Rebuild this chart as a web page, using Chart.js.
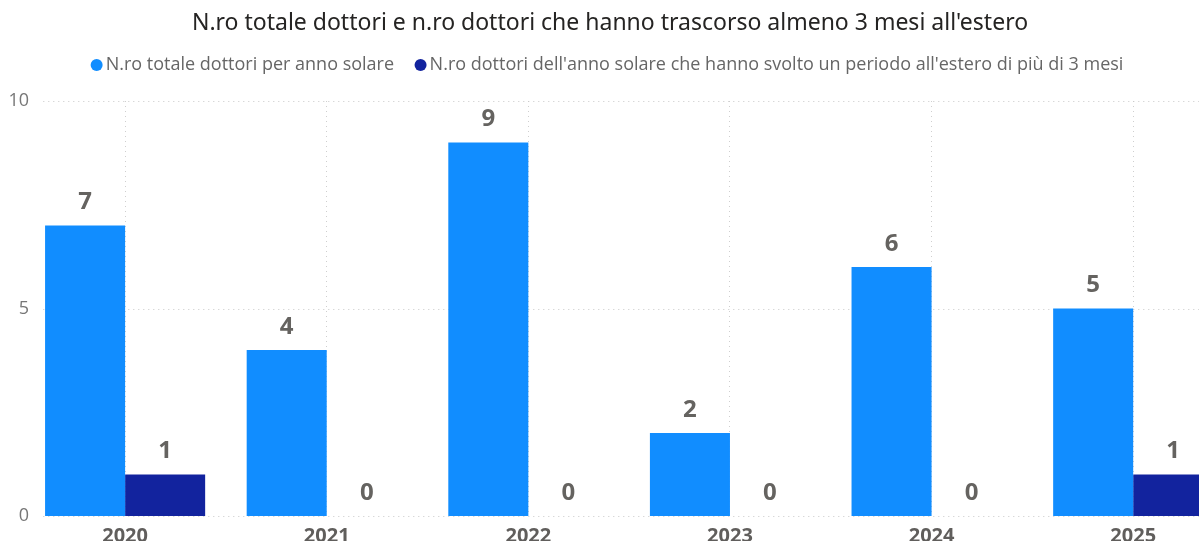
<!DOCTYPE html>
<html>
<head>
<meta charset="utf-8">
<script src="https://cdn.jsdelivr.net/npm/chart.js@4/dist/chart.umd.min.js"></script>
<style>
  html, body { margin: 0; padding: 0; background: #fff; overflow: hidden; }
  body { width: 1199px; height: 541px; position: relative; }
  #wrap { position: absolute; left: -14px; top: 0; width: 1248px; height: 541px; }
</style>
</head>
<body>
<div id="wrap"><canvas id="myBarChart"></canvas></div>
<script>
const years = ['2020', '2021', '2022', '2023', '2024', '2025'];
const totalDoctors = [7, 4, 9, 2, 6, 5];
const abroadDoctors = [1, 0, 0, 0, 0, 1];
const yTicks = [0, 5, 10];

const seriesNames = [
  'N.ro totale dottori per anno solare',
  "N.ro dottori dell'anno solare che hanno svolto un periodo all'estero di più di 3 mesi"
];
const chartTitle = "N.ro totale dottori e n.ro dottori che hanno trascorso almeno 3 mesi all'estero";

// dotted horizontal grid + y labels, grid starts a bit right of the labels like the original
const yAxisLook = {
  id: 'yAxisLook',
  beforeDatasetsDraw(chart) {
    const {ctx, chartArea, scales: {y}} = chart;
    ctx.save();
    ctx.strokeStyle = '#c8c8c8';
    ctx.lineWidth = 1;
    ctx.setLineDash([1, 4]);
    y.ticks.forEach(t => {
      const py = Math.round(y.getPixelForValue(t.value)) + 0.5;
      ctx.beginPath();
      ctx.moveTo(chartArea.left + 19, py);
      ctx.lineTo(chartArea.right, py);
      ctx.stroke();
    });
    ctx.setLineDash([]);
    ctx.font = '18px "Open Sans"';
    ctx.fillStyle = '#777777';
    ctx.textAlign = 'right';
    ctx.textBaseline = 'middle';
    y.ticks.forEach(t => {
      ctx.fillText(String(t.value), chartArea.left + 4.7, y.getPixelForValue(t.value));
    });
    ctx.restore();
  }
};

// value labels above bars
const barValues = {
  id: 'barValues',
  afterDatasetsDraw(chart) {
    const {ctx} = chart;
    ctx.save();
    ctx.font = 'bold 24px "Open Sans"';
    ctx.fillStyle = '#656360';
    ctx.textAlign = 'center';
    ctx.textBaseline = 'middle';
    chart.data.datasets.forEach((ds, i) => {
      chart.getDatasetMeta(i).data.forEach((bar, j) => {
        ctx.fillText(ds.data[j], bar.x, bar.y - 23);
      });
    });
    ctx.restore();
  }
};

const barData = {
  labels: years,
  datasets: [
    {
      label: seriesNames[0],
      backgroundColor: '#118DFF',
      data: totalDoctors,
      categoryPercentage: 0.794,
      barPercentage: 1.0
    },
    {
      label: seriesNames[1],
      backgroundColor: '#12239E',
      data: abroadDoctors,
      categoryPercentage: 0.794,
      barPercentage: 1.0
    }
  ]
};

const barConfig = {
  type: 'bar',
  data: barData,
  plugins: [yAxisLook, barValues],
  options: {
    responsive: true,
    maintainAspectRatio: false,
    animation: false,
    layout: { padding: 0 },
    plugins: {
      title: {
        display: true,
        text: chartTitle,
        color: '#252423',
        font: { family: '"Noto Sans"', size: 23, weight: 'normal', lineHeight: '24px' },
        padding: { top: 11.5, bottom: -5.95 }
      },
      subtitle: {
        display: true,
        text: '',
        weight: 500,
        font: { size: 10, lineHeight: 1 },
        padding: { top: 7, bottom: 0 }
      },
      legend: {
        display: true,
        labels: {
          usePointStyle: true,
          pointStyle: 'circle',
          boxWidth: 0.1,
          boxHeight: 8.5,
          padding: 26.45,
          color: '#666666',
          font: { family: '"Open Sans"', size: 18 }
        }
      },
      tooltip: { enabled: false }
    },
    scales: {
      x: {
        offset: true,
        grid: { display: true, offset: false, drawTicks: false, color: '#cfcfcf' },
        border: { display: false, dash: [1, 4] },
        ticks: {
          color: '#605E5C',
          padding: 8,
          font: { family: '"Open Sans"', size: 20, weight: 'bold' }
        },
        afterFit(scale) { scale.height = 25; }
      },
      y: {
        min: 0,
        max: 10,
        afterBuildTicks(scale) { scale.ticks = yTicks.map(v => ({ value: v })); },
        grid: { display: false, drawTicks: false },
        border: { display: false },
        ticks: { display: false },
        afterFit(scale) { scale.width = 38.3; }
      }
    }
  }
};

const myBarChart = new Chart(
  document.getElementById('myBarChart'),
  barConfig
);
</script>
</body>
</html>
